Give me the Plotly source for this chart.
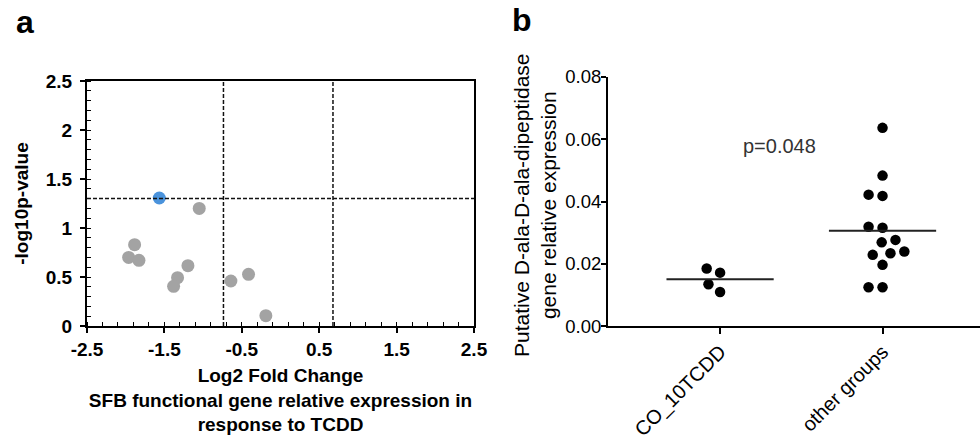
import math
import plotly.graph_objects as go

# ---------------- data: panel a (volcano) ----------------
log2_fc = [-1.05, -1.885, -1.962, -1.829, -1.196, -1.33, -1.381, -0.641, -0.413, -0.189]
neg_log10_p = [1.20, 0.83, 0.70, 0.67, 0.616, 0.493, 0.405, 0.459, 0.527, 0.105]
sig_log2_fc = [-1.566]
sig_neg_log10_p = [1.306]
fc_low, fc_high = 0.6, 1.6          # fold-change thresholds
p_threshold = 0.05
a_xticks = [-2.5, -1.5, -0.5, 0.5, 1.5, 2.5]
a_xticktext = ["-2.5", "-1.5", "-0.5", "0.5", "1.5", "2.5"]
a_yticks = [0, 0.5, 1, 1.5, 2, 2.5]
a_yticktext = ["0", "0.5", "1", "1.5", "2", "2.5"]

# ---------------- data: panel b (dot plot) ----------------
categories = ["CO_10TCDD", "other groups"]
co_10tcdd = [0.0185, 0.0172, 0.0135, 0.0110]
other_groups = [0.0636, 0.0483, 0.0418, 0.0422, 0.0319, 0.0316, 0.0269, 0.0277,
                0.0240, 0.0229, 0.0234, 0.0197, 0.0125, 0.0125]
b_yticks = [0, 0.02, 0.04, 0.06, 0.08]
p_label = "p=0.048"
b_ytitle = "Putative D-ala-D-ala-dipeptidase<br>gene relative expression"

FONT = "Liberation Sans, Arial, sans-serif"
W, H = 980, 439

# layout geometry (pixels)
a_left, a_right, a_top, a_bot = 87, 474, 81, 326
b_left, b_right, b_top, b_bot = 608, 980, 76.7, 326.3
b_xrange = [-0.69, 1.6]
b_yrange = [0, 0.08]


def swarm(values, xscale, yscale, diam):
    """simple beeswarm: offsets (data units) so markers don't overlap"""
    order = sorted(range(len(values)), key=lambda i: values[i])
    placed = []  # (xpx, ypx)
    offs = [0.0] * len(values)
    for i in order:
        y = values[i] * yscale
        cands = [0.0]
        for (px, py) in placed:
            dy = abs(py - y)
            if dy < diam:
                dx = math.sqrt(diam ** 2 - dy ** 2)
                cands += [px - dx, px + dx]
        cands.sort(key=lambda c: (abs(c), c))
        for c in cands:
            if all((c - px) ** 2 + (y - py) ** 2 >= diam ** 2 - 1e-6 for (px, py) in placed):
                placed.append((c, y))
                offs[i] = c / xscale
                break
    return offs


b_xscale = (b_right - b_left) / (b_xrange[1] - b_xrange[0])
b_yscale = (b_bot - b_top) / (b_yrange[1] - b_yrange[0])

fig = go.Figure()

# panel a points
fig.add_trace(go.Scatter(x=log2_fc, y=neg_log10_p, mode="markers",
                         marker=dict(size=13, color="#a3a3a3"),
                         xaxis="x", yaxis="y", showlegend=False, cliponaxis=False))
fig.add_trace(go.Scatter(x=sig_log2_fc, y=sig_neg_log10_p, mode="markers",
                         marker=dict(size=13, color="#4a93dc"),
                         xaxis="x", yaxis="y", showlegend=False, cliponaxis=False))

# threshold lines
for xv in [math.log2(fc_low), math.log2(fc_high)]:
    fig.add_shape(type="line", xref="x", yref="y", x0=xv, x1=xv, y0=0, y1=2.5,
                  line=dict(color="#111", width=1.5, dash="4px,2px"))
hy = -math.log10(p_threshold)
fig.add_shape(type="line", xref="x", yref="y", x0=-2.5, x1=2.5, y0=hy, y1=hy,
              line=dict(color="#111", width=1.5, dash="4px,2px"))

# panel b points + mean lines
for gi, vals in enumerate([co_10tcdd, other_groups]):
    offs = swarm(vals, b_xscale, b_yscale, 14.0)
    fig.add_trace(go.Scatter(x=[gi + o for o in offs], y=vals, mode="markers",
                             marker=dict(size=10.5, color="#000"),
                             xaxis="x2", yaxis="y2", showlegend=False, cliponaxis=False))
    m = sum(vals) / len(vals)
    fig.add_trace(go.Scatter(x=[gi - 0.33, gi + 0.33], y=[m, m], mode="lines",
                             line=dict(color="#222", width=2),
                             xaxis="x2", yaxis="y2", showlegend=False))

fig.add_annotation(x=0.365, y=0.0578, xref="x2", yref="y2", text=p_label, showarrow=False,
                   font=dict(family=FONT, size=20, color="#333"))

# panel b y title (placed as rotated text)
fig.add_annotation(x=535 / W, y=1 - 205 / H, xref="paper", yref="paper", text=b_ytitle,
                   textangle=-90, showarrow=False, xanchor="center", yanchor="middle",
                   font=dict(family=FONT, size=21, color="#000"))

# panel letters
fig.add_annotation(x=14 / W, y=1 - 22 / H, xref="paper", yref="paper", text="<b>a</b>",
                   showarrow=False, xanchor="left", yanchor="middle",
                   font=dict(family=FONT, size=32, color="#000"))
fig.add_annotation(x=510 / W, y=1 - 20 / H, xref="paper", yref="paper", text="<b>b</b>",
                   showarrow=False, xanchor="left", yanchor="middle",
                   font=dict(family=FONT, size=32, color="#000"))

boldfont = dict(family=FONT, size=19, color="#000", weight="bold")
regfont = dict(family=FONT, size=18.5, color="#000")

fig.update_layout(
    width=W, height=H, margin=dict(l=0, r=0, t=0, b=0, autoexpand=False),
    paper_bgcolor="white", plot_bgcolor="white", showlegend=False,
    xaxis=dict(domain=[a_left / W, a_right / W], range=[-2.5, 2.5], automargin=False,
               tickvals=a_xticks, ticktext=a_xticktext,
               ticks="outside", ticklen=5, tickwidth=1.5, tickcolor="#000",
               minor=dict(tick0=-2.5, dtick=0.2, ticks="inside", ticklen=4,
                          tickwidth=1, tickcolor="#000", showgrid=False),
               showline=True, linewidth=2, linecolor="#000", mirror=True,
               showgrid=False, zeroline=False, tickfont=boldfont,
               title=dict(text="Log2 Fold Change<br>SFB functional gene relative expression in<br>response to TCDD",
                          font=boldfont, standoff=10),
               anchor="y"),
    yaxis=dict(domain=[1 - a_bot / H, 1 - a_top / H], range=[0, 2.5], automargin=False,
               tickvals=a_yticks, ticktext=a_yticktext, ticklabelstandoff=4,
               ticks="outside", ticklen=5, tickwidth=1.5, tickcolor="#000",
               minor=dict(tick0=0, dtick=0.1, ticks="inside", ticklen=4,
                          tickwidth=1, tickcolor="#000", showgrid=False),
               showline=True, linewidth=2, linecolor="#000", mirror=True,
               showgrid=False, zeroline=False, tickfont=boldfont,
               title=dict(text="-log10p-value", font=boldfont, standoff=12),
               anchor="x"),
    xaxis2=dict(domain=[b_left / W, b_right / W], range=b_xrange, automargin=False,
                tickvals=[0, 1], ticktext=categories, tickangle=-45,
                ticks="outside", ticklen=6, tickwidth=2, tickcolor="#000",
                ticklabelstandoff=-2,
                showline=True, linewidth=2, linecolor="#000",
                showgrid=False, zeroline=False,
                tickfont=dict(family=FONT, size=20, color="#000"),
                anchor="y2"),
    yaxis2=dict(domain=[1 - b_bot / H, 1 - b_top / H], range=b_yrange, automargin=False,
                tickvals=b_yticks, tickformat=".2f", ticklabelstandoff=-4,
                ticks="outside", ticklen=5, tickwidth=2, tickcolor="#000",
                showline=True, linewidth=2, linecolor="#000",
                showgrid=False, zeroline=False, tickfont=regfont,
                anchor="x2"),
)

fig.write_html("out.html", config={"displayModeBar": False},
               post_script="document.body.style.margin='0';document.body.style.overflow='hidden';")
